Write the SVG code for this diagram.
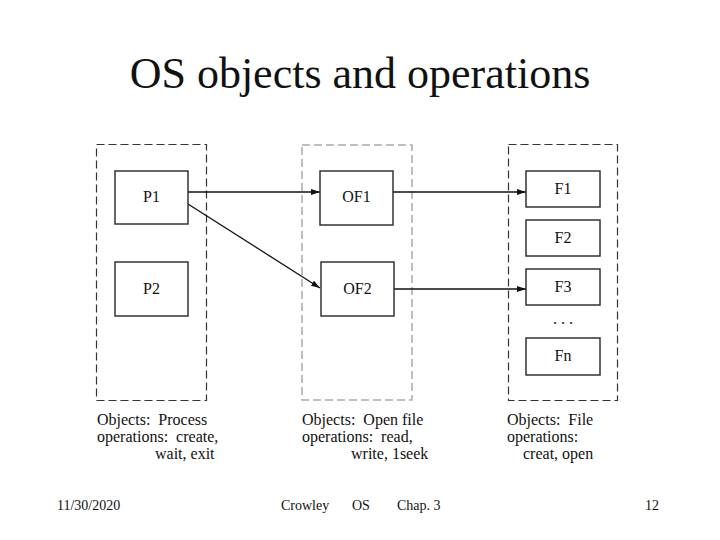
<svg xmlns="http://www.w3.org/2000/svg" width="720" height="540" viewBox="0 0 720 540" font-family="'Liberation Serif', 'DejaVu Serif', 'Times New Roman', serif">
<style>
text{fill:#111}
.title{font-size:44px}
.box{fill:#fff;stroke:#333;stroke-width:1.5}
.lbl{font-size:16px;text-anchor:middle}
.cap{font-size:16px}
.foot{font-size:14px}
.cont{fill:none;stroke:#333;stroke-width:1.2;stroke-dasharray:8 4}
.cont2{fill:none;stroke:#aaa;stroke-width:1.5;stroke-dasharray:8 4}
.conn{stroke:#111;stroke-width:1.3;fill:none}
</style>
<defs>
<marker id="ah" markerWidth="10" markerHeight="8" refX="9" refY="4" orient="auto" markerUnits="userSpaceOnUse">
<path d="M0,1 L9,4 L0,7 Z" fill="#111"/>
</marker>
</defs>
<rect width="720" height="540" fill="#fff"/>
<text class="title" x="360" y="88" text-anchor="middle">OS objects and operations</text>
<g id="containers">
<rect class="cont" x="96.5" y="144.5" width="110" height="256"/>
<rect class="cont2" x="302" y="145" width="110" height="255"/>
<rect class="cont" x="508.5" y="144.5" width="109" height="256"/>
</g>
<g id="connectors">
<line class="conn" x1="188" y1="192" x2="320" y2="192" marker-end="url(#ah)"/>
<line class="conn" x1="188" y1="204" x2="320" y2="288" marker-end="url(#ah)"/>
<line class="conn" x1="393" y1="192" x2="526" y2="192" marker-end="url(#ah)"/>
<line class="conn" x1="394" y1="289" x2="526" y2="289" marker-end="url(#ah)"/>
</g>
<g id="P1"><rect class="box" x="115" y="171" width="73" height="53"/><text class="lbl" x="151.5" y="202">P1</text></g>
<g id="P2"><rect class="box" x="115" y="262" width="73" height="54"/><text class="lbl" x="151.5" y="294">P2</text></g>
<g id="OF1"><rect class="box" x="320" y="171" width="73" height="54"/><text class="lbl" x="356.5" y="202">OF1</text></g>
<g id="OF2"><rect class="box" x="321" y="262" width="73" height="54"/><text class="lbl" x="357.5" y="294">OF2</text></g>
<g id="F1"><rect class="box" x="526" y="171" width="74" height="36"/><text class="lbl" x="563" y="194">F1</text></g>
<g id="F2"><rect class="box" x="526" y="220" width="74" height="36"/><text class="lbl" x="563" y="243">F2</text></g>
<g id="F3"><rect class="box" x="526" y="269" width="74" height="36"/><text class="lbl" x="563" y="292">F3</text></g>
<text class="lbl" x="563" y="324">. . .</text>
<g id="Fn"><rect class="box" x="526" y="338" width="74" height="37"/><text class="lbl" x="563" y="361">Fn</text></g>
<g id="captions">
<text class="cap" x="97" y="425" xml:space="preserve">Objects:  Process</text>
<text class="cap" x="97" y="442" xml:space="preserve">operations:  create,</text>
<text class="cap" x="155" y="459">wait, exit</text>
<text class="cap" x="302" y="425" xml:space="preserve">Objects:  Open file</text>
<text class="cap" x="302" y="442" xml:space="preserve">operations:  read,</text>
<text class="cap" x="351" y="459">write, 1seek</text>
<text class="cap" x="507" y="425" xml:space="preserve">Objects:  File</text>
<text class="cap" x="507" y="442">operations:</text>
<text class="cap" x="523" y="459">creat, open</text>
</g>
<g id="footer">
<text class="foot" x="57" y="510">11/30/2020</text>
<text class="foot" x="281" y="510">Crowley</text>
<text class="foot" x="352" y="510">OS</text>
<text class="foot" x="397" y="510">Chap. 3</text>
<text class="foot" x="645" y="510">12</text>
</g>
</svg>
